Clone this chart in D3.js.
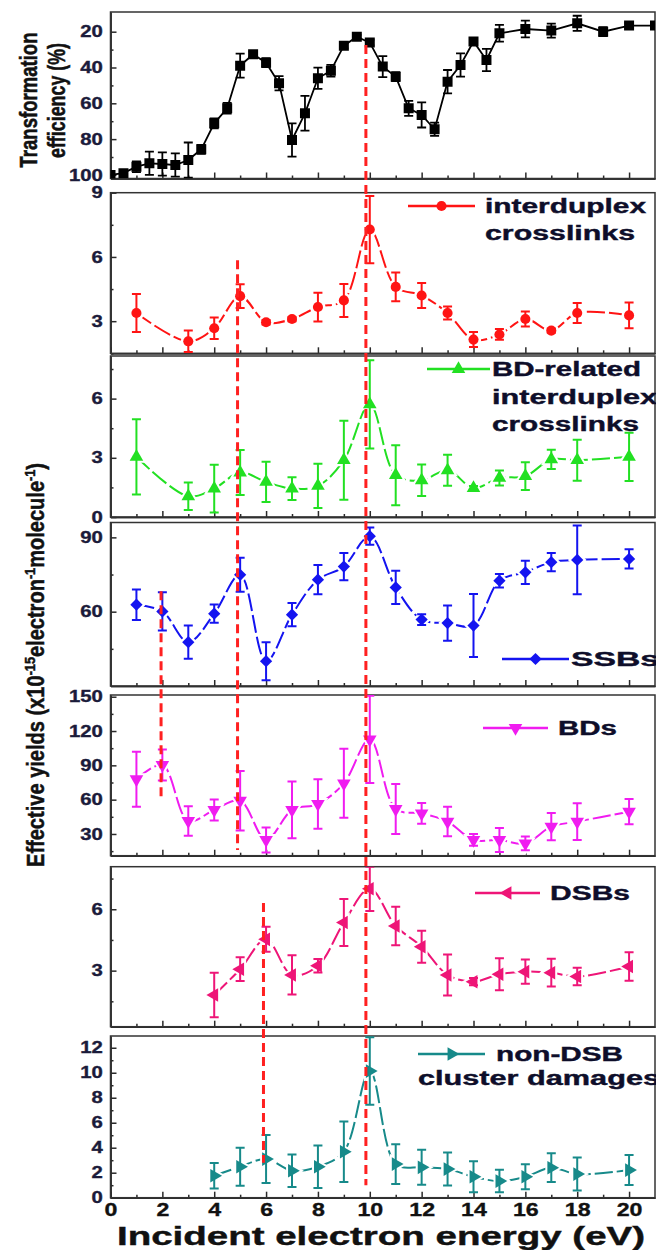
<!DOCTYPE html>
<html>
<head>
<meta charset="utf-8">
<script src="https://cdn.jsdelivr.net/npm/d3@7"></script>
<style>
body { margin: 0; background: #fff; }
svg { display: block; font-family: "Liberation Sans", Arial, sans-serif; font-weight: bold; }
.axis path, .axis line { stroke: #2a2a2a; stroke-width: 1.5; }
.axis text { fill: #1b1b3a; font-size: 16px; font-weight: bold; stroke: #1b1b3a; stroke-width: 0.35; }
.lbl { stroke-width: 0.4; }
</style>
</head>
<body>
<script>
// ---- data ----
var teX = [0, 0.5, 1, 1.5, 2, 2.5, 3, 3.5, 4, 4.5, 5, 5.5, 6, 6.5, 7, 7.5, 8, 8.5, 9, 9.5,
           10, 10.5, 11, 11.5, 12, 12.5, 13, 13.5, 14, 14.5, 15, 16, 17, 18, 19, 20, 21];
var teY = [100, 99, 95.4, 93.5, 93.9, 94.5, 91.7, 85.7, 71.2, 62.8, 39, 32.6, 37.3, 48.8, 80.5, 65.6, 46, 41.8, 27.8, 22.8,
           26.1, 39.5, 45.1, 62.8, 66.5, 74.5, 47.9, 38.6, 25.5, 35.8, 20.9, 18.5, 19.4, 15.3, 20, 16.6, 16.6];
var teErr = [0, 1, 3, 6.5, 6.5, 6.5, 9.8, 2.5, 2.8, 3, 6.7, 1.5, 2.5, 4, 9.3, 9.7, 5.9, 3.3, 1.5, 1,
             1.5, 5.9, 2.5, 4.2, 7, 3.7, 6.5, 6.5, 2, 6.2, 4.7, 4.7, 3.9, 4.2, 2.5, 1.5, 1.5];

var crossX = [1, 3, 4, 5, 6, 7, 8, 9, 10, 11, 12, 13, 14, 15, 16, 17, 18, 20];
var crossY = [3.38, 2.06, 2.67, 4.17, 2.95, 3.1, 3.66, 3.97, 7.28, 4.6, 4.2, 3.38, 2.14, 2.38, 3.1, 2.56, 3.38, 3.27];
var crossErr = [0.89, 0.5, 0.5, 0.55, 0.1, 0.1, 0.67, 0.77, 1.57, 0.67, 0.58, 0.3, 0.35, 0.25, 0.35, 0.1, 0.47, 0.6];
var bdCrossY = [3.05, 1.05, 1.44, 2.25, 1.78, 1.44, 1.58, 2.88, 5.71, 2.12, 1.86, 2.37, 1.47, 1.98, 2.07, 2.92, 2.88, 3.05];
var bdCrossErr = [1.91, 0.7, 1.21, 1.14, 1.02, 0.58, 1.12, 2.0, 2.24, 1.52, 0.8, 0.78, 0.1, 0.38, 0.7, 0.49, 1.04, 1.22];

var ssbX = [1, 2, 3, 4, 5, 6, 7, 8, 9, 10, 11, 12, 13, 14, 15, 16, 17, 18, 20];
var ssbY = [62.8, 60.1, 47.7, 59.2, 74.9, 40, 58.8, 72.9, 78.2, 90.5, 69.8, 56.8, 55.4, 54.4, 72.5, 75.9, 80, 80.9, 81.3];
var ssbErr = [6.2, 7.7, 6.7, 3.7, 6.9, 7.7, 4.7, 5.9, 5.5, 3.5, 6.7, 2.2, 7.1, 12.7, 2.7, 4.7, 3.7, 13.9, 3.9];
var bdY = [77.8, 90.3, 41.4, 51, 59.1, 24.8, 51, 56.2, 74.3, 112.7, 51.8, 48, 40.8, 24.8, 24.8, 21.8, 36.4, 40.8, 49.5];
var bdErr = [24, 13.6, 12.9, 9.2, 26, 10.9, 24.8, 21.6, 30.1, 38.2, 21.9, 9, 12.9, 5.1, 10.5, 6, 11.9, 16, 11];

var dsbX = [4, 5, 6, 7, 8, 9, 10, 11, 12, 13, 14, 15, 16, 17, 18, 20];
var dsbY = [1.81, 3.07, 4.53, 2.79, 3.24, 5.35, 7.0, 5.18, 4.17, 2.79, 2.46, 2.82, 2.95, 2.9, 2.71, 3.2];
var dsbErr = [1.09, 0.58, 0.61, 0.96, 0.33, 1.15, 1.08, 0.94, 0.78, 1.0, 0.18, 0.78, 0.59, 0.68, 0.43, 0.7];
var clusterY = [1.76, 2.48, 3.09, 2.16, 2.48, 3.68, 10.13, 2.69, 2.43, 2.29, 1.68, 1.33, 1.68, 2.4, 1.89, 2.21];
var clusterErr = [1.02, 1.52, 1.92, 1.3, 1.7, 2.42, 2.7, 1.59, 1.4, 1.32, 1.24, 0.9, 1.0, 1.15, 1.32, 1.2];

// tick labels
var xMajor = [0, 2, 4, 6, 8, 10, 12, 14, 16, 18, 20];
var xMinor = [1, 3, 5, 7, 9, 11, 13, 15, 17, 19];
var yMajor = [[20, 40, 60, 80, 100], [3, 6, 9], [0, 3, 6], [60, 90], [30, 60, 90, 120, 150], [3, 6], [0, 2, 4, 6, 8, 10, 12]];
var yMinor = [[30, 50, 70, 90], [1.5, 4.5, 7.5], [1.5, 4.5, 7.5], [45, 75], [15, 45, 75, 105, 135], [1.5, 4.5, 7.5], [1, 3, 5, 7, 9, 11]];
var yDomains = [[102, 9], [1.5, 9], [0, 8.16], [30, 96], [11, 151.5], [0.26, 8.08], [0, 12.94]];

// red dashed guide lines: energy, [panel, value] start and end
var guides = [
    {e: 9.85, from: [0, 27.4], to: [6, 1.0]},
    {e: 4.9, from: [1, 5.84], to: [4, 16]},
    {e: 1.95, from: [3, 68.2], to: [4, 61.5]},
    {e: 5.9, from: [5, 6.3], to: [6, 2.8]}
];

// ---- layout ----
var W = 656, H = 1250;
var panelBox = [
    {top: 12, bottom: 178.5},
    {top: 192.7, bottom: 353.3},
    {top: 356, bottom: 517},
    {top: 522.5, bottom: 686},
    {top: 695, bottom: 855.7},
    {top: 866.7, bottom: 1026.7},
    {top: 1036, bottom: 1197.7}
];

var svg = d3.select("body").append("svg").attr("width", W).attr("height", H);

var x = d3.scaleLinear().domain([0, 21]).range([110.5, 655]);

var ys = panelBox.map(function(p, i) {
    return d3.scaleLinear().domain(yDomains[i]).range([p.bottom, p.top]);
});

// clip paths
var defs = svg.append("defs");
panelBox.forEach(function(p, i) {
    defs.append("clipPath").attr("id", "clip" + i)
        .append("rect")
        .attr("x", x(0)).attr("y", p.top)
        .attr("width", x(21) - x(0)).attr("height", p.bottom - p.top);
});

// axes and frames
panelBox.forEach(function(p, i) {
    var y = ys[i];
    var g = svg.append("g");

    g.append("g").attr("class", "axis")
        .attr("transform", "translate(0," + p.bottom + ")")
        .call(d3.axisBottom(x).tickValues(xMinor).tickSizeInner(-3).tickSizeOuter(0).tickFormat(""));
    var xa = g.append("g").attr("class", "axis")
        .attr("transform", "translate(0," + p.bottom + ")")
        .call(d3.axisBottom(x).tickValues(xMajor).tickSizeInner(-6).tickSizeOuter(0)
              .tickPadding(5)
              .tickFormat(i == 6 ? d3.format("d") : ""));
    xa.selectAll("text").style("font-size", "19px").style("fill", "#111").style("stroke", "#111")
        .attr("transform", "scale(1.22,1)");

    g.append("g").attr("class", "axis")
        .attr("transform", "translate(" + x(0) + ",0)")
        .call(d3.axisLeft(y).tickValues(yMinor[i]).tickSizeInner(-3).tickSizeOuter(0).tickFormat(""));
    var ya = g.append("g").attr("class", "axis")
        .attr("transform", "translate(" + x(0) + ",0)")
        .call(d3.axisLeft(y).tickValues(yMajor[i]).tickSizeInner(-6).tickSizeOuter(0).tickPadding(6));
    ya.selectAll("text")
        .attr("transform", "scale(1.27,1)");

    g.append("rect")
        .attr("x", x(0)).attr("y", p.top)
        .attr("width", x(21) - x(0)).attr("height", p.bottom - p.top)
        .style("fill", "none").style("stroke", "#333").style("stroke-width", 1.5);
});

// symbols
function symPath(kind, size) {
    var t = d3.symbolTriangle;
    if (kind == "square") return {d: d3.symbol(d3.symbolSquare, size)(), rot: 0};
    if (kind == "circle") return {d: d3.symbol(d3.symbolCircle, size)(), rot: 0};
    if (kind == "diamond") return {d: d3.symbol(d3.symbolSquare, size)(), rot: 45};
    if (kind == "up") return {d: d3.symbol(t, size)(), rot: 0};
    if (kind == "down") return {d: d3.symbol(t, size)(), rot: 180};
    if (kind == "left") return {d: d3.symbol(t, size)(), rot: -90};
    if (kind == "right") return {d: d3.symbol(t, size)(), rot: 90};
}

var series = [
    {panel: 0, xs: teX, ys: teY, err: teErr, color: "#000", sym: "square", size: 100, curve: d3.curveLinear, lw: 1.8},
    {panel: 1, xs: crossX, ys: crossY, err: crossErr, color: "#ff1414", sym: "circle", size: 80, curve: d3.curveCatmullRom, lw: 2},
    {panel: 2, xs: crossX, ys: bdCrossY, err: bdCrossErr, color: "#22e022", sym: "up", size: 80, curve: d3.curveCatmullRom, lw: 2},
    {panel: 3, xs: ssbX, ys: ssbY, err: ssbErr, color: "#1414f0", sym: "diamond", size: 75, curve: d3.curveCatmullRom, lw: 2},
    {panel: 4, xs: ssbX, ys: bdY, err: bdErr, color: "#f01cf0", sym: "down", size: 80, curve: d3.curveCatmullRom, lw: 2},
    {panel: 5, xs: dsbX, ys: dsbY, err: dsbErr, color: "#ee1577", sym: "left", size: 80, curve: d3.curveCatmullRom, lw: 2},
    {panel: 6, xs: dsbX, ys: clusterY, err: clusterErr, color: "#178a8a", sym: "right", size: 80, curve: d3.curveCatmullRom, lw: 2}
];

series.forEach(function(s) {
    var y = ys[s.panel];
    var pts = s.xs.map(function(v, i) { return {x: v, y: s.ys[i], e: s.err[i]}; });
    var g = svg.append("g").attr("clip-path", "url(#clip" + s.panel + ")");

    var line = d3.line()
        .x(function(d) { return x(d.x); })
        .y(function(d) { return y(d.y); })
        .curve(s.curve);
    g.append("path")
        .attr("d", line(pts))
        .style("fill", "none")
        .style("stroke", s.color)
        .style("stroke-width", s.lw)
        .style("stroke-dasharray", s.panel == 0 ? null : "18,4");

    var sp = symPath(s.sym, s.size);
    var halo = symPath(s.sym, s.size * 2.3);
    // gap around symbols
    if (s.panel > 0) {
        g.selectAll(".halo").data(pts).enter().append("path")
            .attr("d", halo.d)
            .attr("transform", function(d) { return "translate(" + x(d.x) + "," + y(d.y) + ") rotate(" + halo.rot + ")"; })
            .style("fill", "#fff");
    }

    // error bars
    var eb = g.selectAll(".eb").data(pts.filter(function(d) { return d.e > 0; })).enter().append("g")
        .style("stroke", s.color).style("stroke-width", s.lw);
    eb.append("line")
        .attr("x1", function(d) { return x(d.x); }).attr("x2", function(d) { return x(d.x); })
        .attr("y1", function(d) { return y(d.y - d.e); }).attr("y2", function(d) { return y(d.y + d.e); });
    eb.append("line")
        .attr("x1", function(d) { return x(d.x) - 4.5; }).attr("x2", function(d) { return x(d.x) + 4.5; })
        .attr("y1", function(d) { return y(d.y - d.e); }).attr("y2", function(d) { return y(d.y - d.e); });
    eb.append("line")
        .attr("x1", function(d) { return x(d.x) - 4.5; }).attr("x2", function(d) { return x(d.x) + 4.5; })
        .attr("y1", function(d) { return y(d.y + d.e); }).attr("y2", function(d) { return y(d.y + d.e); });

    g.selectAll(".mk").data(pts).enter().append("path")
        .attr("d", sp.d)
        .attr("transform", function(d) { return "translate(" + x(d.x) + "," + y(d.y) + ") rotate(" + sp.rot + ")"; })
        .style("fill", s.color);
});

// legends
var legends = [
    {s: 1, x0: 408, x1: 475, y: 206, tx: 485, text: ["interduplex", "crosslinks"], len: [161, 150], dy: 27},
    {s: 2, x0: 427, x1: 490, y: 369, tx: 492, text: ["BD-related", "interduplex", "crosslinks"], len: [149, 165, 147], dy: 27.5},
    {s: 3, x0: 502, x1: 569, y: 659, tx: 571, text: ["SSBs"], len: [88], dy: 0},
    {s: 4, x0: 483, x1: 548, y: 728, tx: 558, text: ["BDs"], len: [59], dy: 0},
    {s: 5, x0: 475, x1: 540, y: 893, tx: 550, text: ["DSBs"], len: [80], dy: 0},
    {s: 6, x0: 418, x1: 485, y: 1054, tx: 496, text: ["non-DSB"], len: [127], dy: 0}
];
legends.forEach(function(L) {
    var s = series[L.s];
    var sp = symPath(s.sym, s.size);
    var g = svg.append("g");
    g.append("line").attr("x1", L.x0).attr("x2", L.x1).attr("y1", L.y).attr("y2", L.y)
        .style("stroke", s.color).style("stroke-width", 2.5);
    g.append("path").attr("d", sp.d)
        .attr("transform", "translate(" + (L.x0 + L.x1) / 2 + "," + L.y + ") rotate(" + sp.rot + ")")
        .style("fill", s.color);
    L.text.forEach(function(t, k) {
        g.append("text").text(t).attr("class", "lbl")
            .attr("x", L.tx).attr("y", L.y + 7 + k * L.dy)
            .attr("textLength", L.len[k]).attr("lengthAdjust", "spacingAndGlyphs")
            .style("font-size", "20px").style("fill", "#0e0e2a").style("stroke", "#0e0e2a");
    });
});
svg.append("text").text("cluster damages").attr("class", "lbl")
    .attr("x", 418).attr("y", 1085)
    .attr("textLength", 242).attr("lengthAdjust", "spacingAndGlyphs")
    .style("font-size", "20px").style("fill", "#0e0e2a").style("stroke", "#0e0e2a");

// red dashed guides
guides.forEach(function(gd) {
    svg.append("line")
        .attr("x1", x(gd.e)).attr("x2", x(gd.e))
        .attr("y1", ys[gd.from[0]](gd.from[1]))
        .attr("y2", ys[gd.to[0]](gd.to[1]))
        .style("stroke", "#ff2020").style("stroke-width", 3)
        .style("stroke-dasharray", "9,5");
});

// axis titles
svg.append("text").text("Incident electron energy (eV)").attr("class", "lbl")
    .attr("x", 117).attr("y", 1245)
    .attr("textLength", 528).attr("lengthAdjust", "spacingAndGlyphs")
    .style("font-size", "25px").style("fill", "#111").style("stroke", "#111");

svg.append("text").attr("class", "lbl")
    .attr("transform", "translate(37,100) scale(1.35,1) rotate(-90)")
    .attr("text-anchor", "middle")
    .attr("textLength", 135).attr("lengthAdjust", "spacingAndGlyphs")
    .style("font-size", "18px").style("fill", "#111").style("stroke", "#111")
    .text("Transformation");
svg.append("text").attr("class", "lbl")
    .attr("transform", "translate(65,100.5) scale(1.35,1) rotate(-90)")
    .attr("text-anchor", "middle")
    .attr("textLength", 115).attr("lengthAdjust", "spacingAndGlyphs")
    .style("font-size", "18px").style("fill", "#111").style("stroke", "#111")
    .text("efficiency (%)");

var yt = svg.append("text").attr("class", "lbl")
    .attr("transform", "translate(44,665) scale(1.25,1) rotate(-90)")
    .attr("text-anchor", "middle")
    .attr("textLength", 404).attr("lengthAdjust", "spacingAndGlyphs")
    .style("font-size", "19px").style("fill", "#111").style("stroke", "#111");
yt.append("tspan").text("Effective yields (x10");
yt.append("tspan").text("-15").attr("dy", -7).style("font-size", "12px");
yt.append("tspan").text("electron").attr("dy", 7);
yt.append("tspan").text("-1").attr("dy", -7).style("font-size", "12px");
yt.append("tspan").text("molecule").attr("dy", 7);
yt.append("tspan").text("-1").attr("dy", -7).style("font-size", "12px");
yt.append("tspan").text(")").attr("dy", 7);
</script>
</body>
</html>
